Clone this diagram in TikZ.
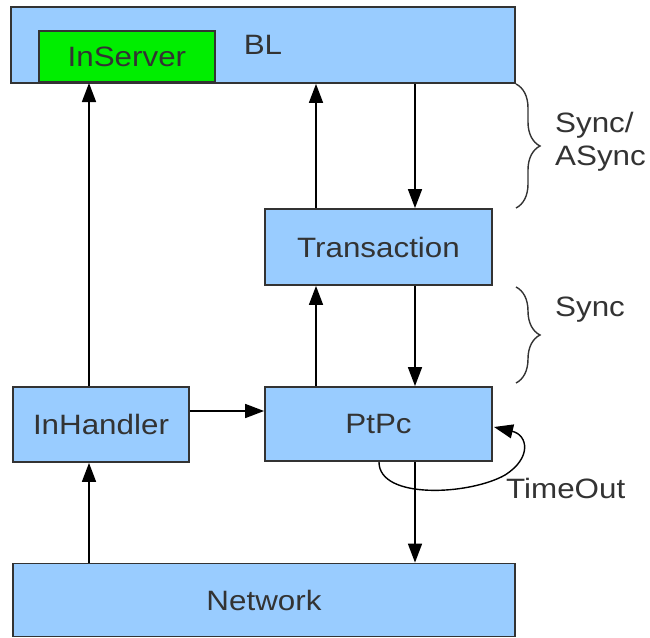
\documentclass[tikz,border=0pt]{standalone}
\usepackage{fontspec}
\setmainfont{Liberation Sans}[FakeStretch=1.12]
\usetikzlibrary{arrows.meta,decorations.pathreplacing}
\definecolor{boxblue}{HTML}{99CCFF}
\definecolor{boxgreen}{HTML}{00EE00}
\definecolor{txt}{HTML}{333333}
\tikzset{
  blk/.style={draw=txt, line width=1.8pt, fill=boxblue, text=txt, inner sep=0pt, font=\fontsize{28}{32}\selectfont},
  arr/.style={line width=1.6pt, -{Triangle[length=19pt,width=14pt]}},
  brc/.style={line width=1.4pt, draw=txt, decorate, decoration={brace, amplitude=24pt}},
  lbl/.style={text=txt, font=\fontsize{28}{32}\selectfont, inner sep=0pt}
}
\begin{document}
\begin{tikzpicture}[x=1pt,y=-1pt]
\useasboundingbox (0,0) rectangle (650,637);
\node[blk, minimum width=504pt, minimum height=76pt] (BL) at (263,45) {BL};
\node[blk, fill=boxgreen, minimum width=176pt, minimum height=51pt, anchor=south west] (InServer) at (38,83) {InServer};
\node[blk, minimum width=227pt, minimum height=76pt] (Trans) at (378.5,247) {Transaction};
\node[blk, minimum width=176pt, minimum height=75pt] (InHandler) at (101,424.5) {InHandler};
\node[blk, minimum width=227pt, minimum height=74pt] (PtPc) at (378.5,424) {PtPc};
\node[blk, minimum width=502pt, minimum height=73pt] (Network) at (264,600) {Network};
\coordinate (xa) at (89,0);
\coordinate (xb) at (316,0);
\coordinate (xc) at (415,0);
\coordinate (ya) at (0,411);
\draw[arr] (InHandler.north -| xa) -- (InServer.south -| xa);
\draw[arr] (Network.north -| xa) -- (InHandler.south -| xa);
\draw[arr] (Trans.north -| xb) -- (BL.south -| xb);
\draw[arr] (BL.south -| xc) -- (Trans.north -| xc);
\draw[arr] (PtPc.north -| xb) -- (Trans.south -| xb);
\draw[arr] (Trans.south -| xc) -- (PtPc.north -| xc);
\draw[arr] (InHandler.east |- ya) -- (PtPc.west |- ya);
\draw[arr] (PtPc.south -| xc) -- (Network.north -| xc);
\coordinate (loopA) at (379,462);
\coordinate (loopB) at (494,427);
\draw[arr, line width=1.4pt] (loopA) .. controls (379,500) and (470,495) .. (505,475) .. controls (532,458) and (528,435) .. (loopB);
\node[lbl, anchor=west] (TimeOut) at (506,488) {TimeOut};
\coordinate (b1a) at (516,84);
\coordinate (b1b) at (516,208);
\coordinate (b2a) at (516,287);
\coordinate (b2b) at (516,383);
\draw[brc] (b1a) -- (b1b);
\draw[brc] (b2a) -- (b2b);
\node[lbl, anchor=west, align=left, font=\fontsize{28}{33}\selectfont] (SA) at (555,142) {Sync/\\ASync};
\node[lbl, anchor=west] (S) at (555,310) {Sync};
\end{tikzpicture}
\end{document}
